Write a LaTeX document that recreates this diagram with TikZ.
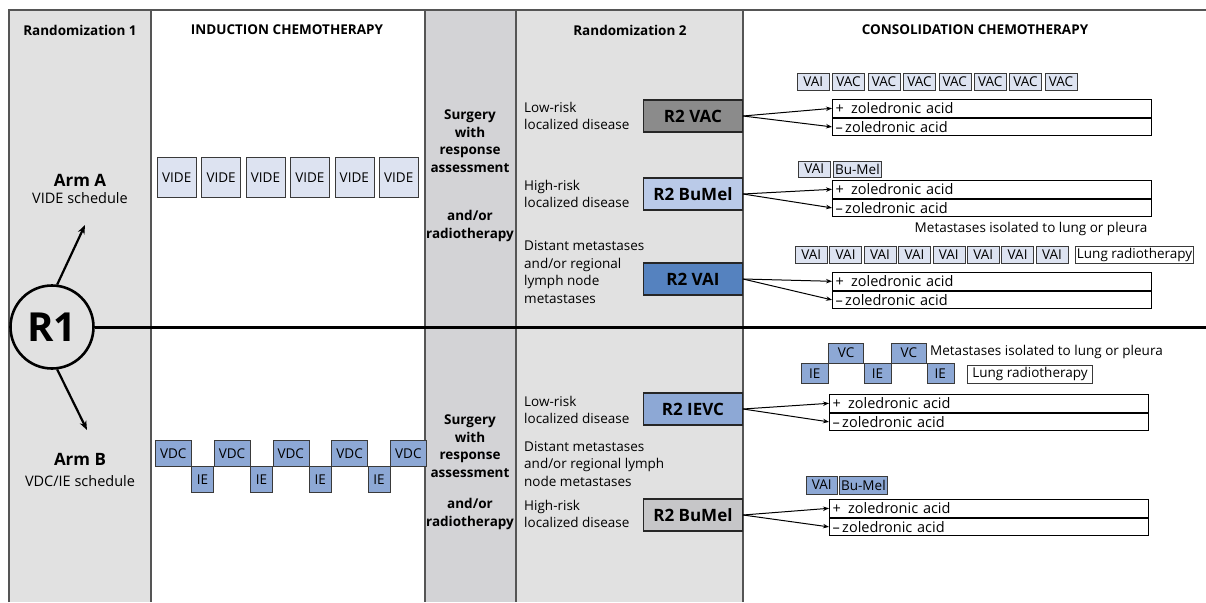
\documentclass[tikz,border=0pt]{standalone}
\usepackage{fontspec}
\setmainfont{Open Sans}
\usepackage{xcolor}
\usetikzlibrary{positioning, arrows.meta}

\definecolor{colgray}{HTML}{E1E1E1}
\definecolor{surggray}{HTML}{D3D3D6}
\definecolor{colline}{HTML}{555555}
\definecolor{boxline}{HTML}{3A3A3A}
\definecolor{pale}{HTML}{DDE3F1}
\definecolor{midblue}{HTML}{8DA8D5}
\definecolor{vacgray}{HTML}{8B8B8B}
\definecolor{bumelblue}{HTML}{BACAE8}
\definecolor{vaiblue}{HTML}{5582BF}
\definecolor{bumelgray}{HTML}{C6C6C8}

\begin{document}
\begin{tikzpicture}[
		x=1pt, y=-1pt,
		node distance=3pt,
		every node/.style={font=\fontsize{13.5}{17.5}\selectfont},
		colrule/.style={draw=colline, line width=1.3pt},
		header/.style={font=\bfseries\fontsize{13.5}{16}\selectfont},
		surgery/.style={align=center, font=\bfseries\fontsize{13.5}{17.5}\selectfont},
		stage/.style={anchor=west, align=left, inner sep=0pt},
		course/.style={rectangle, draw=boxline, fill=pale, inner sep=1.5pt, minimum height=17pt, font=\fontsize{13.5}{15}\selectfont},
		stair/.style={rectangle, draw=boxline, fill=midblue, inner sep=1pt, font=\fontsize{13.5}{15}\selectfont},
		rtwo/.style={rectangle, draw=black!85, line width=1.2pt, minimum width=99pt, minimum height=32pt, anchor=east, font=\bfseries\fontsize{17}{20}\selectfont},
		zol/.style={rectangle, draw=black, line width=1.1pt, inner xsep=3pt, inner ysep=1.5pt, text width=313pt, minimum height=17.5pt, align=left, font=\fontsize{14.5}{16}\selectfont},
		pointer/.style={-{Stealth[length=6pt, width=4.5pt]}, line width=1pt},
		armarrow/.style={-{Stealth[length=9pt, width=7pt]}, line width=2.2pt}
		]
		\useasboundingbox (0,0) rectangle (1206,602);
		
		% Column backgrounds
		\fill[colgray] (9,10) rectangle (151,602);
		\fill[surggray] (425,10) rectangle (516,602);
		\fill[colgray] (516,10) rectangle (743,602);
		\draw[colrule] (9,602) -- (9,10) -- (1206,10);
		\draw[colrule] (151,10) -- (151,602);
		\draw[colrule] (425,10) -- (425,602);
		\draw[colrule] (516,10) -- (516,602);
		\draw[colrule] (743,10) -- (743,602);
		
		% Headers
		\node[header] (hrand1) at (80,30) {Randomization 1};
		\node[header] (hind) at (287,30) {INDUCTION CHEMOTHERAPY};
		\node[header] (hrand2) at (630,30) {Randomization 2};
		\node[header] (hcons) at (975,30) {CONSOLIDATION CHEMOTHERAPY};
		
		% Randomization 1
		\node[circle, draw, line width=2.6pt, minimum size=83pt, inner sep=0pt, font=\bfseries\fontsize{40}{40}\selectfont] (r1) at (52,327) {R1};
		\node[font=\bfseries\fontsize{17}{20}\selectfont] (arma) at (80,180) {Arm A};
		\node[font=\fontsize{14.5}{17}\selectfont] (armasched) at (80,198) {VIDE schedule};
		\node[font=\bfseries\fontsize{17}{20}\selectfont] (armb) at (80,459) {Arm B};
		\node[font=\fontsize{14.5}{17}\selectfont] (armbsched) at (80,481) {VDC/IE schedule};
		\coordinate (atip) at (85,225);
		\coordinate (btip) at (87,430);
		\coordinate (lineend) at (1206,327);
		\draw[armarrow] (r1.83) -- (atip);
		\draw[armarrow] (r1.-83) -- (btip);
		\draw[line width=3pt] (r1.east) -- (lineend);
		
		% Induction, arm A
		\node[course, minimum width=39pt, minimum height=40pt, anchor=north west] (vide1) at (157,157) {VIDE};
		\node[course, minimum width=39pt, minimum height=40pt, right=5pt of vide1] (vide2) {VIDE};
		\node[course, minimum width=39pt, minimum height=40pt, right=5pt of vide2] (vide3) {VIDE};
		\node[course, minimum width=39pt, minimum height=40pt, right=5pt of vide3] (vide4) {VIDE};
		\node[course, minimum width=39pt, minimum height=40pt, right=5pt of vide4] (vide5) {VIDE};
		\node[course, minimum width=39pt, minimum height=40pt, right=5pt of vide5] (vide6) {VIDE};
		
		% Induction, arm B
		\node[stair, minimum width=36pt, minimum height=26pt, anchor=north west] (vdc1) at (155,440) {VDC};
		\node[stair, minimum width=22pt, minimum height=26pt, anchor=north west] (ie1) at (vdc1.south east) {IE};
		\node[stair, minimum width=36pt, minimum height=26pt, anchor=south west] (vdc2) at (ie1.north east) {VDC};
		\node[stair, minimum width=22pt, minimum height=26pt, anchor=north west] (ie2) at (vdc2.south east) {IE};
		\node[stair, minimum width=36pt, minimum height=26pt, anchor=south west] (vdc3) at (ie2.north east) {VDC};
		\node[stair, minimum width=22pt, minimum height=26pt, anchor=north west] (ie3) at (vdc3.south east) {IE};
		\node[stair, minimum width=36pt, minimum height=26pt, anchor=south west] (vdc4) at (ie3.north east) {VDC};
		\node[stair, minimum width=22pt, minimum height=26pt, anchor=north west] (ie4) at (vdc4.south east) {IE};
		\node[stair, minimum width=36pt, minimum height=26pt, anchor=south west] (vdc5) at (ie4.north east) {VDC};
		
		% Surgery
		\node[surgery] (surga) at (470,141) {Surgery\\with\\response\\assessment};
		\node[surgery] (rada) at (470,226) {and/or\\radiotherapy};
		\node[surgery] (surgb) at (470,446) {Surgery\\with\\response\\assessment};
		\node[surgery] (radb) at (470,514) {and/or\\radiotherapy};
		
		% Randomization 2
		\node[stage] (lowa) at (524,116) {Low-risk\\localized disease};
		\node[stage] (higha) at (524,194) {High-risk\\localized disease};
		\node[stage] (dista) at (524,272) {Distant metastases\\and/or regional\\lymph node\\metastases};
		\node[stage] (lowb) at (524,410) {Low-risk\\localized disease};
		\node[stage] (distb) at (524,464) {Distant metastases\\and/or regional lymph\\node metastases};
		\node[stage] (highb) at (524,514) {High-risk\\localized disease};
		
		\node[rtwo, fill=vacgray] (r2vac) at (743,116) {R2 VAC};
		\node[rtwo, fill=bumelblue] (r2bumela) at (743,194) {R2 BuMel};
		\node[rtwo, fill=vaiblue] (r2vai) at (743,279) {R2 VAI};
		\node[rtwo, fill=midblue] (r2ievc) at (743,409) {R2 IEVC};
		\node[rtwo, fill=bumelgray] (r2bumelb) at (743,515) {R2 BuMel};
		
		% Consolidation, low-risk arm A
		\node[course, minimum width=32pt, anchor=west] (vaia) at (797,82) {VAI};
		\node[course, minimum width=32pt, right=of vaia] (vac1) {VAC};
		\node[course, minimum width=32pt, right=of vac1] (vac2) {VAC};
		\node[course, minimum width=32pt, right=of vac2] (vac3) {VAC};
		\node[course, minimum width=32pt, right=of vac3] (vac4) {VAC};
		\node[course, minimum width=32pt, right=of vac4] (vac5) {VAC};
		\node[course, minimum width=32pt, right=of vac5] (vac6) {VAC};
		\node[course, minimum width=32pt, right=of vac6] (vac7) {VAC};
		\node[zol, anchor=north west] (plus1) at (832,99) {+\enspace zoledronic acid};
		\node[zol, below=0pt of plus1] (minus1) {--\,zoledronic acid};
		
		% Consolidation, high-risk arm A
		\node[course, minimum width=32pt, minimum height=16pt, anchor=west] (vaib) at (798,169) {VAI};
		\node[course, minimum height=16pt, right=of vaib] (bumela) {Bu-Mel};
		\node[zol, anchor=north west] (plus2) at (832,180) {+\enspace zoledronic acid};
		\node[zol, below=0pt of plus2] (minus2) {--\,zoledronic acid};
		
		% Consolidation, metastases arm A
		\node (lunga) at (1031,229) {Metastases isolated to lung or pleura};
		\node[course, minimum width=32pt, anchor=west] (vaic1) at (795,254.5) {VAI};
		\node[course, minimum width=32pt, right=2pt of vaic1] (vaic2) {VAI};
		\node[course, minimum width=32pt, right=2pt of vaic2] (vaic3) {VAI};
		\node[course, minimum width=32pt, right=2pt of vaic3] (vaic4) {VAI};
		\node[course, minimum width=32pt, right=2pt of vaic4] (vaic5) {VAI};
		\node[course, minimum width=32pt, right=2pt of vaic5] (vaic6) {VAI};
		\node[course, minimum width=32pt, right=2pt of vaic6] (vaic7) {VAI};
		\node[course, minimum width=32pt, right=2pt of vaic7] (vaic8) {VAI};
		\node[course, fill=white, right=7pt of vaic8] (lungrta) {Lung radiotherapy};
		\node[zol, anchor=north west] (plus3) at (832,272) {+\enspace zoledronic acid};
		\node[zol, below=0pt of plus3] (minus3) {--\,zoledronic acid};
		
		% Consolidation, arm B
		\node[stair, minimum width=27pt, minimum height=20pt, anchor=north west] (iec1) at (801,363) {IE};
		\node[stair, minimum width=35pt, minimum height=20pt, anchor=south west] (vcc1) at (iec1.north east) {VC};
		\node[stair, minimum width=27pt, minimum height=20pt, anchor=north west] (iec2) at (vcc1.south east) {IE};
		\node[stair, minimum width=35pt, minimum height=20pt, anchor=south west] (vcc2) at (iec2.north east) {VC};
		\node[stair, minimum width=27pt, minimum height=20pt, anchor=north west] (iec3) at (vcc2.south east) {IE};
		\node[anchor=west, inner sep=0pt] (lungb) at (930,352) {Metastases isolated to lung or pleura};
		\node[course, fill=white, minimum width=125pt, minimum height=18pt] (lungrtb) at (1030,374) {Lung radiotherapy};
		\node[zol, anchor=north west] (plus4) at (829,394) {+\enspace zoledronic acid};
		\node[zol, below=0pt of plus4] (minus4) {--\,zoledronic acid};
		
		\node[course, fill=midblue, minimum width=31pt, minimum height=18pt, anchor=west] (vaid) at (806,485) {VAI};
		\node[course, fill=midblue, minimum height=18pt, right=2pt of vaid] (bumelb) {Bu-Mel};
		\node[zol, anchor=north west] (plus5) at (829,499) {+\enspace zoledronic acid};
		\node[zol, below=0pt of plus5] (minus5) {--\,zoledronic acid};
		
		% Pointers
		\draw[pointer] (r2vac.east) -- (plus1.west);
		\draw[pointer] (r2vac.east) -- (minus1.west);
		\draw[pointer] (r2bumela.east) -- (plus2.west);
		\draw[pointer] (r2bumela.east) -- (minus2.west);
		\draw[pointer] (r2vai.east) -- (plus3.west);
		\draw[pointer] (r2vai.east) -- (minus3.west);
		\draw[pointer] (r2ievc.east) -- (plus4.west);
		\draw[pointer] (r2ievc.east) -- (minus4.west);
		\draw[pointer] (r2bumelb.east) -- (plus5.west);
		\draw[pointer] (r2bumelb.east) -- (minus5.west);
		
	\end{tikzpicture}
\end{document}
